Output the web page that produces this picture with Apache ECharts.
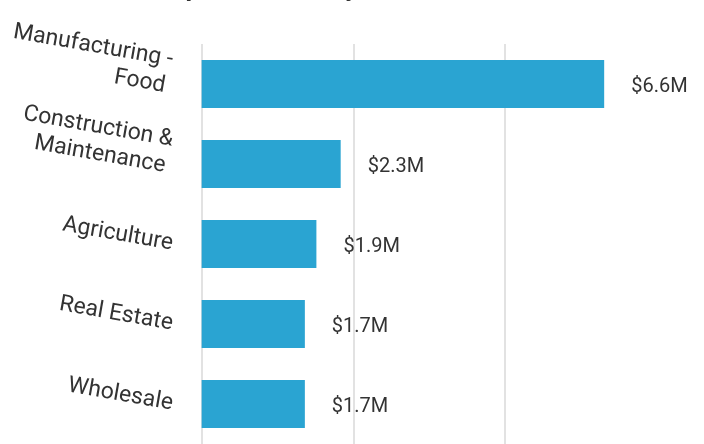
<!DOCTYPE html>
<html>
<head>
<meta charset="utf-8">
<script src="https://cdn.jsdelivr.net/npm/echarts@6/dist/echarts.min.js"></script>
<style>html,body{margin:0;padding:0;background:#fff}#c{width:704px;height:444px}</style>
</head>
<body>
<div id="c"></div>
<script>
const titleText = 'Top Industries by Loan Amount';
const categories = ['Manufacturing -\nFood', 'Construction &\nMaintenance', 'Agriculture', 'Real Estate', 'Wholesale'];
const values = [6.63, 2.29, 1.89, 1.7, 1.7];
const axisMin = 0, axisMax = 7.5, axisInterval = 2.5;

const chart = echarts.init(document.getElementById('c'), null, {renderer: 'canvas'});
chart.setOption({
  animation: false,
  backgroundColor: '#ffffff',
  title: {
    text: titleText,
    left: 157,
    top: -24,
    padding: 0,
    textStyle: {fontFamily: 'Roboto', fontSize: 26, fontWeight: 'bold', color: '#333333'}
  },
  grid: {left: 201, right: 47, top: 44, bottom: -5, containLabel: false},
  xAxis: {
    type: 'value', min: axisMin, max: axisMax, interval: axisInterval,
    axisLine: {show: false}, axisTick: {show: false}, axisLabel: {show: false},
    splitLine: {show: true, showMaxLine: false,
      lineStyle: {color: ['#e2e2e2', '#e2e2e2', '#e2e2e2', 'rgba(0,0,0,0)'], width: 2}}
  },
  yAxis: {
    type: 'category', inverse: true, data: categories,
    axisLine: {show: false}, axisTick: {show: false},
    axisLabel: {interval: 0, hideOverlap: false, rotate: -10, margin: 29,
      fontFamily: 'Roboto', fontSize: 23, lineHeight: 27, color: '#333333',
      formatter: v => {
        const parts = v.split('\n');
        if (parts.length === 1) return '{a|' + v + '}';
        return '{a|' + parts[0] + '}{w1| }\n{a|' + parts[1] + '}{w2| }\n{s| }';
      },
      rich: {
        a: {fontFamily: 'Roboto', fontSize: 23, lineHeight: 27, color: '#333333'},
        w1: {width: 4, fontSize: 10},
        w2: {width: 7, fontSize: 10},
        s: {fontSize: 10, lineHeight: 20}
      }
    }
  },
  series: [{
    type: 'bar', data: values, barCategoryGap: '40%',
    itemStyle: {color: '#2aa4d2'},
    label: {show: true, position: 'right', distance: 27, offset: [0, 3],
      fontFamily: 'Roboto', fontSize: 20, color: '#333333',
      formatter: p => '$' + p.value.toFixed(1) + 'M'}
  }]
});
</script>
</body>
</html>
